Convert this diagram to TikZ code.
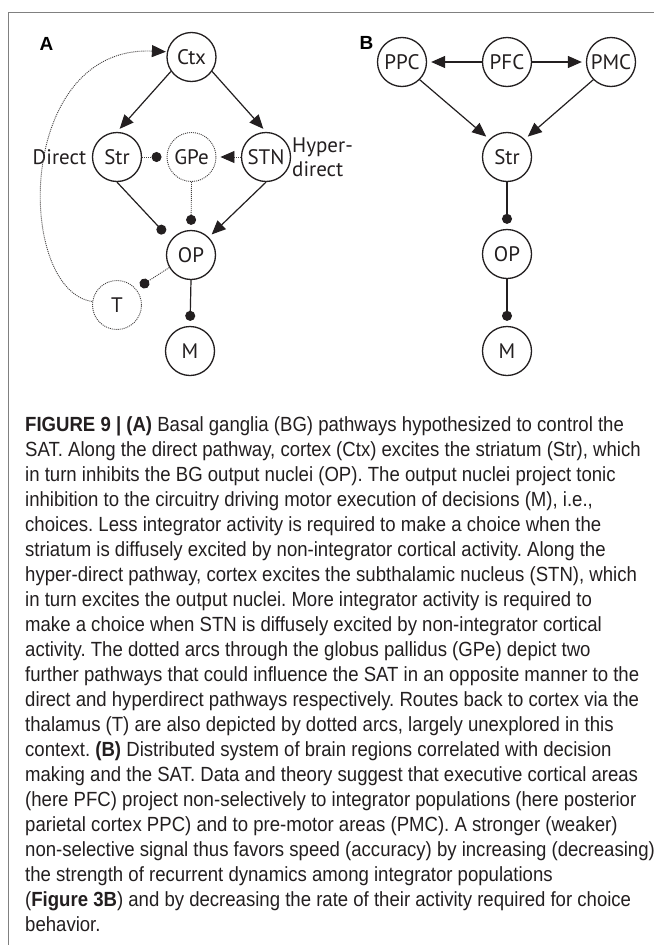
\documentclass[tikz,border=0pt]{standalone}
\usepackage{fontspec}
\setmainfont{PT Sans}
\newfontfamily\capfont[FakeStretch=0.906]{Liberation Sans}
\newfontfamily\labfont{Liberation Sans}
\usetikzlibrary{arrows.meta}
\definecolor{framegray}{HTML}{808080}
\definecolor{ink}{HTML}{231F20}
\frenchspacing
\begin{document}
\begin{tikzpicture}[x=1pt,y=-1pt,
  nd/.style={circle, draw=ink, line width=1.3pt, minimum size=49pt, inner sep=0pt,
    text=ink, font=\fontsize{21}{21}\selectfont},
  dnd/.style={nd, draw=ink!85, line width=0.9pt, dash pattern=on 1pt off 1pt},
  conn/.style={draw=ink, line width=1.2pt},
  dconn/.style={draw=ink!85, line width=0.9pt, dash pattern=on 1pt off 1pt},
  exc/.style={-{Triangle[length=14pt,width=12pt,color=ink]}, shorten >=4pt},
  inh/.style={-{Circle[length=10pt,color=ink]}, shorten >=5pt},
  lab/.style={font=\labfont\bfseries\fontsize{19}{19}\selectfont, text=black, inner sep=0pt},
  side/.style={font=\fontsize{21}{24}\selectfont, text=ink, inner sep=0pt},
  captxt/.style={font=\capfont\fontsize{20.5}{22}\selectfont, text=ink, inner sep=0pt, anchor=base west}
]
\useasboundingbox (0,0) rectangle (654,945);
\fill[white] (0,0) rectangle (654,945);
% frame
\draw[framegray, line width=1.5pt] (8.3,945) -- (8.3,12.3) -- (654,12.3);

% ---- Panel A ----
\node[lab] (labA) at (46.5,44) {A};
\node[nd]  (ctx) at (191.5,57) {Ctx};
\node[nd]  (strA) at (117,157) {Str};
\node[dnd] (gpe) at (191.5,157) {GPe};
\node[nd]  (stn) at (266,157) {STN};
\node[nd]  (opA) at (191,255) {OP};
\node[dnd] (th) at (117,305) {T};
\node[nd]  (mA) at (190,351) {M};
\node[side] (direct) at (59.5,157) {Direct};
\node[side, align=left, anchor=west] (hyper) at (292,157.5) {Hyper-\\direct};

\draw[conn, exc] (ctx.215) -- (strA.north);
\draw[conn, exc] (ctx.-35) -- (stn.north);
\draw[dconn, inh] (strA.east) -- (gpe.west);
\draw[dconn, exc] (stn.west) -- (gpe.east);
\draw[conn, inh, shorten >=9pt] (strA.south) -- (opA.143);
\draw[dconn, inh] (gpe.south) -- (opA.north);
\draw[conn, exc] (stn.south) -- (opA.45);
\draw[dconn, inh] (opA.210) -- (th.40);
\draw[conn, inh] (opA.south) -- (mA.north);
\draw[dconn, exc, shorten >=1pt] (th.172) .. controls (15,290) and (15,45) .. (ctx.168);

% ---- Panel B ----
\node[lab] (labB) at (366.5,43) {B};
\node[nd] (ppc) at (402,62) {PPC};
\node[nd] (pfc) at (507,62) {PFC};
\node[nd] (pmc) at (611,62) {PMC};
\node[nd] (strB) at (507,157) {Str};
\node[nd] (opB) at (507,254) {OP};
\node[nd] (mB) at (507,351) {M};

\draw[conn, exc] (pfc.west) -- (ppc.east);
\draw[conn, exc] (pfc.east) -- (pmc.west);
\draw[conn, exc] (ppc.-45) -- (strB.135);
\draw[conn, exc] (pmc.-135) -- (strB.45);
\draw[conn, inh] (strB.south) -- (opB.north);
\draw[conn, inh] (opB.south) -- (mB.north);

% ---- Caption ----
\node[captxt] (c1) at (25,431) {\textbf{FIGURE 9 | (A)} Basal ganglia (BG) pathways hypothesized to control the};
\node[captxt] (c2) at (25,456) {SAT. Along the direct pathway, cortex (Ctx) excites the striatum (Str), which};
\node[captxt] (c3) at (25,481) {in turn inhibits the BG output nuclei (OP). The output nuclei project tonic};
\node[captxt] (c4) at (25,506) {inhibition to the circuitry driving motor execution of decisions (M), i.e.,};
\node[captxt] (c5) at (25,531) {choices. Less integrator activity is required to make a choice when the};
\node[captxt] (c6) at (25,556) {striatum is diffusely excited by non-integrator cortical activity. Along the};
\node[captxt] (c7) at (25,581) {hyper-direct pathway, cortex excites the subthalamic nucleus (STN), which};
\node[captxt] (c8) at (25,606) {in turn excites the output nuclei. More integrator activity is required to};
\node[captxt] (c9) at (25,631) {make a choice when STN is diffusely excited by non-integrator cortical};
\node[captxt] (c10) at (25,656) {activity. The dotted arcs through the globus pallidus (GPe) depict two};
\node[captxt] (c11) at (25,681) {further pathways that could influence the SAT in an opposite manner to the};
\node[captxt] (c12) at (25,706) {direct and hyperdirect pathways respectively. Routes back to cortex via the};
\node[captxt] (c13) at (25,731) {thalamus (T) are also depicted by dotted arcs, largely unexplored in this};
\node[captxt] (c14) at (25,756) {context. \textbf{(B)} Distributed system of brain regions correlated with decision};
\node[captxt] (c15) at (25,781) {making and the SAT. Data and theory suggest that executive cortical areas};
\node[captxt] (c16) at (25,806) {(here PFC) project non-selectively to integrator populations (here posterior};
\node[captxt] (c17) at (25,831) {parietal cortex PPC) and to pre-motor areas (PMC). A stronger (weaker)};
\node[captxt] (c18) at (25,856) {non-selective signal thus favors speed (accuracy) by increasing (decreasing)};
\node[captxt] (c19) at (25,881) {the strength of recurrent dynamics among integrator populations};
\node[captxt] (c20) at (25,906) {(\textbf{Figure 3B}) and by decreasing the rate of their activity required for choice};
\node[captxt] (c21) at (25,931) {behavior.};
\end{tikzpicture}
\end{document}
